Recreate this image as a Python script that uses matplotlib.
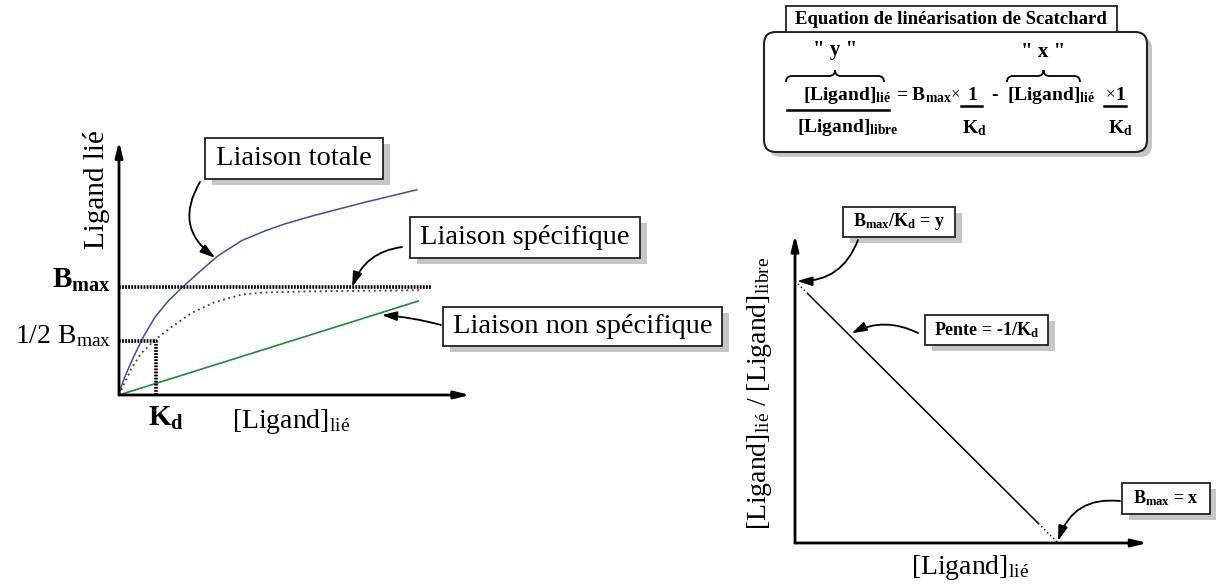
import matplotlib.pyplot as plt
from matplotlib.patches import Rectangle, FancyBboxPatch, PathPatch
from matplotlib.path import Path

plt.rcParams['font.family'] = ['Liberation Serif', 'DejaVu Serif']
plt.rcParams['mathtext.fontset'] = 'custom'
plt.rcParams['mathtext.rm'] = 'Liberation Serif'
plt.rcParams['mathtext.bf'] = 'Liberation Serif:bold'
plt.rcParams['mathtext.it'] = 'Liberation Serif:italic'

W, H = 1216, 587

# left panel: saturation curves, in units of Bmax (y) and Kd (x)
bmax = 1.0
kd = 1.0
total_x = [0, 0.05, 0.16, 0.39, 0.66, 0.97, 1.33, 1.69, 2.14, 2.68, 3.32, 3.95, 4.49, 5.30, 6.65, 8.05]
total_y = [0, 0.07, 0.17, 0.35, 0.54, 0.72, 0.87, 0.99, 1.13, 1.29, 1.43, 1.52, 1.585, 1.665, 1.785, 1.90]
spec_x = [0, 0.34, 0.61, 0.97, 1.42, 1.96, 2.59, 3.32, 3.95, 5.3, 8.18]
spec_y = [0, 0.25, 0.39, 0.51, 0.63, 0.76, 0.86, 0.93, 0.95, 0.96, 0.97]
nonspec_x = [0, 8.09]
nonspec_y = [0, 0.87]
bmax_line_end = 8.45
left_xtip, left_ytip = 9.49, 2.35

# right panel: Scatchard line (x = bound, y = bound/free)
scat_x = [0, 0.5, 9.25, 10]
scat_y = [10, 9.5, 0.75, 0]
right_xtip, right_ytip = 13.4, 11.76

fig = plt.figure(figsize=(12.16, 5.87), dpi=100)


def px_axes(l, t, r, b):
    return fig.add_axes([l / W, 1 - b / H, (r - l) / W, (b - t) / H])


axis_arrow = dict(arrowstyle='-|>,head_length=0.9,head_width=0.22', color='k',
                  lw=2, shrinkA=0, shrinkB=0)
note_arrow = dict(arrowstyle='-|>,head_length=0.9,head_width=0.28', color='k',
                  lw=1.3, shrinkA=0, shrinkB=0)
hatch = dict(color='k', lw=2.6, ls=(0, (0.5, 0.35)))

# ---- left plot
axL = px_axes(100.5, 125, 489, 427.4)
axL.set_xlim(-0.5, 10)
axL.set_ylim(-0.3, 2.5)
axL.axis('off')
axL.plot(total_x, total_y, color='#3a4fa8', lw=1.1)
axL.plot(spec_x, spec_y, color='#8b1c1c', lw=1.3, ls=(0, (1, 2)))
axL.plot(nonspec_x, nonspec_y, color='#1e8a3c', lw=1.2)
axL.plot([0, bmax_line_end], [bmax, bmax], **hatch)
axL.plot([0, kd, kd], [bmax / 2, bmax / 2, 0], **hatch)
axL.annotate('', xy=(left_xtip, 0), xytext=(0, 0), arrowprops=axis_arrow)
axL.annotate('', xy=(0, left_ytip), xytext=(0, 0), arrowprops=axis_arrow)

# ---- right plot
axR = px_axes(768.7, 215.5, 1176.4, 569.2)
axR.set_xlim(-1, 14.5)
axR.set_ylim(-1, 12.5)
axR.axis('off')
axR.plot(scat_x[1:3], scat_y[1:3], color='k', lw=1.1)
axR.plot(scat_x[:2], scat_y[:2], color='k', lw=1.0, ls=(0, (1, 2)))
axR.plot(scat_x[2:], scat_y[2:], color='k', lw=1.0, ls=(0, (1, 2)))
axR.annotate('', xy=(right_xtip, 0), xytext=(0, 0), arrowprops=axis_arrow)
axR.annotate('', xy=(0, right_ytip), xytext=(0, 0), arrowprops=axis_arrow)

# ---- overlay in pixel coordinates for labels, boxes and pointers
ov = fig.add_axes([0, 0, 1, 1])
ov.set_xlim(0, W)
ov.set_ylim(H, 0)
ov.axis('off')


def label_box(x0, y0, x1, y1, text, size, bold=False, shadow=True):
    if shadow:
        ov.add_patch(Rectangle((x0 + 7, y0 + 6), x1 - x0, y1 - y0, fc='#c6c6c6', ec='none'))
    ov.add_patch(Rectangle((x0, y0), x1 - x0, y1 - y0, fc='white', ec='#222222', lw=1.3))
    ov.text((x0 + x1) / 2, (y0 + y1) / 2, text, ha='center', va='center', fontsize=size,
            fontweight='bold' if bold else 'normal')


def brace(x0, x1, y, h, q=6):
    xm = (x0 + x1) / 2
    verts = [(x0, y + h), (x0, y), (x0 + q, y), (xm - q, y), (xm, y), (xm, y - h),
             (xm, y), (xm + q, y), (x1 - q, y), (x1, y), (x1, y + h)]
    codes = [Path.MOVETO, Path.CURVE3, Path.CURVE3, Path.LINETO, Path.CURVE3, Path.CURVE3,
             Path.CURVE3, Path.CURVE3, Path.LINETO, Path.CURVE3, Path.CURVE3]
    ov.add_patch(PathPatch(Path(verts, codes), fc='none', ec='k', lw=1.3))


def pointer(target, ax, start, rad):
    ov.annotate('', xy=target, xycoords=ax.transData, xytext=start, textcoords=ov.transData,
                arrowprops=dict(note_arrow, connectionstyle=f'arc3,rad={rad}'))


# left labels
ov.text(96, 190, 'Ligand lié', rotation=90, ha='center', va='center', fontsize=21)
ov.text(111, 280, r'B$_{\mathbf{max}}$', ha='right', va='center', fontsize=21, fontweight='bold')
ov.text(111, 336, r'1/2 B$_{\rm max}$', ha='right', va='center', fontsize=20)
ov.text(166, 418, r'K$_{\mathbf{d}}$', ha='center', va='center', fontsize=21, fontweight='bold')
ov.text(291, 421, r'[Ligand]$_{\rm lié}$', ha='center', va='center', fontsize=20)

label_box(205, 138, 383, 179, 'Liaison totale', 20.5)
label_box(410, 217, 640, 258, 'Liaison spécifique', 20.5)
label_box(443, 307, 722, 346, 'Liaison non spécifique', 20.5)

pointer((2.6, 1.27), axL, (200, 182), 0.45)
pointer((6.3, bmax), axL, (402, 247), 0.3)
pointer((7.1, 0.74), axL, (441, 325), 0.05)

# right labels
ov.text(760, 393, r'[Ligand]$_{\rm lié}$ / [Ligand]$_{\rm libre}$', rotation=90,
        ha='center', va='center', fontsize=20)
ov.text(970, 568, r'[Ligand]$_{\rm lié}$', ha='center', va='center', fontsize=20)

label_box(843, 207, 955, 237, r'B$_{\mathbf{max}}$/K$_{\mathbf{d}}$ = y', 13, bold=True)
label_box(925, 315, 1048, 345, r'Pente = -1/K$_{\mathbf{d}}$', 13, bold=True)
label_box(1122, 483, 1210, 514, r'B$_{\mathbf{max}}$ = x', 13, bold=True)

pointer((0.08, 10), axR, (858, 240), -0.35)
pointer((2.15, 8.0), axR, (918, 333), 0.25)
pointer((10, 0.08), axR, (1120, 501), 0.4)

# Scatchard equation box
ov.add_patch(FancyBboxPatch((769, 37), 383, 120, boxstyle='round,pad=0,rounding_size=12',
                            fc='#c6c6c6', ec='none'))
ov.add_patch(FancyBboxPatch((764, 32), 383, 120, boxstyle='round,pad=0,rounding_size=12',
                            fc='white', ec='#222222', lw=1.5))
ov.add_patch(Rectangle((786, 6), 331, 26, fc='white', ec='#222222', lw=1.3))
ov.text(951, 19, 'Equation de linéarisation de Scatchard', ha='center', va='center',
        fontsize=13.5, fontweight='bold')

eq = dict(fontsize=14, fontweight='bold', va='center')
ov.text(835, 50, '" y "', ha='center', fontsize=15, fontweight='bold', va='center')
brace(786, 884, 76, 6)
ov.text(847, 95, r'[Ligand]$_{\mathbf{lié}}$', ha='center', **eq)
ov.plot([787, 889], [110, 110], color='k', lw=1.8)
ov.text(848, 128, r'[Ligand]$_{\mathbf{libre}}$', ha='center', **eq)
ov.text(896, 95, r'= B$_{\mathbf{max}}$', ha='left', **eq)
ov.text(951, 94, '×', ha='left', fontsize=12, va='center')
ov.text(972, 95, '1', ha='center', **eq)
ov.plot([961, 982], [106, 106], color='k', lw=1.8)
ov.text(974, 128, r'K$_{\mathbf{d}}$', ha='center', **eq)
ov.text(995, 96, '-', ha='center', **eq)
ov.text(1043, 52, '" x "', ha='center', fontsize=15, fontweight='bold', va='center')
brace(1007, 1080, 76, 6)
ov.text(1007, 95, r'[Ligand]$_{\mathbf{lié}}$', ha='left', **eq)
ov.text(1106, 94, '×', ha='left', fontsize=12, va='center')
ov.text(1120, 95, '1', ha='center', **eq)
ov.plot([1104, 1126], [106, 106], color='k', lw=1.8)
ov.text(1120, 128, r'K$_{\mathbf{d}}$', ha='center', **eq)

fig.savefig('out.png', dpi=100)
